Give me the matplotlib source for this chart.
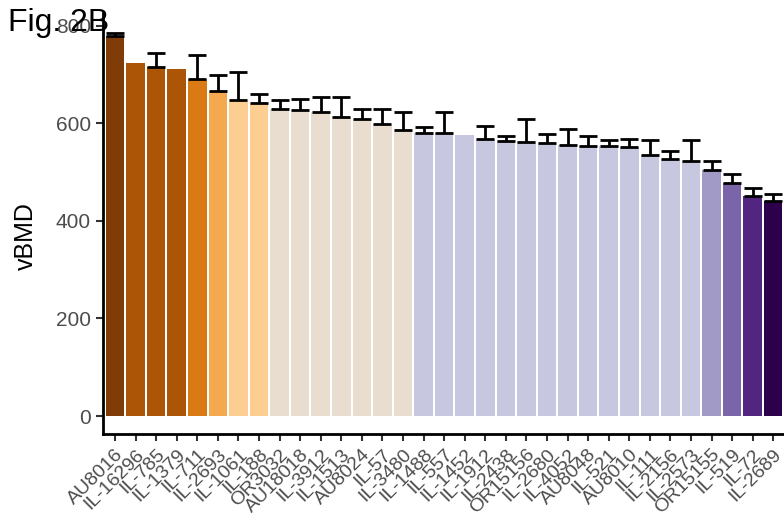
from matplotlib import pyplot as plt
import numpy as np

lines = ["AU8016", "IL-16296", "IL-785", "IL-1379", "IL-711", "IL-2693", "IL-1061",
         "IL-188", "OR3032", "AU18018", "IL-3912", "IL-1513", "AU8024", "IL-57",
         "IL-3480", "IL-1488", "IL-557", "IL-1452", "IL-1912", "IL-2438", "OR15156",
         "IL-2680", "IL-4052", "AU8048", "IL-521", "AU8010", "IL-111", "IL-2156",
         "IL-2573", "OR15155", "IL-519", "IL-72", "IL-2689"]
vbmd = [779, 723, 715, 711, 691, 666, 647, 642, 630, 627, 623, 612, 608, 599,
        586, 581, 581, 576, 567, 564, 561, 559, 555, 554, 553, 552, 536, 526,
        523, 504, 477, 452, 440]
# upper error only, None where no bar was drawn
err = [7, None, 30, None, 50, 33, 58, 18, 17, 22, 31, 41, 22, 31,
       37, 11, 42, None, 27, 10, 48, 20, 34, 20, 12, 16, 29, 18,
       42, 18, 19, 15, 16]
colors = (["#7F3B08"] + ["#AD5506"] * 3 + ["#D97A14", "#F4A84F"] + ["#FDCE91"] * 2
          + ["#E9DDD0"] * 7 + ["#C7C7E0"] * 14
          + ["#A29AC6", "#7A65A8", "#522580", "#2D004B"])

plt.rcParams['font.family'] = ['Liberation Sans', 'DejaVu Sans']

fig = plt.figure(figsize=(7.84, 5.23), dpi=100)
ax = fig.add_axes([0.131, 0.170, 0.871, 0.805])

x = np.arange(len(lines))
ex = [i for i, e in enumerate(err) if e is not None]
ey = [vbmd[i] for i in ex]
ee = [err[i] for i in ex]
ax.errorbar(ex, ey, yerr=[np.zeros(len(ee)), ee], fmt='none', ecolor='black',
            elinewidth=2, capsize=6.8, capthick=2, zorder=3)
ax.bar(x, vbmd, width=0.9, color=colors, zorder=2)

ax.set_xlim(-0.6, len(lines) - 0.4)
ax.set_ylim(-37, 826)
ax.set_yticks([0, 200, 400, 600, 800])
ax.set_xticks(x)
ax.set_xticklabels(lines, rotation=45, ha='right', va='top',
                   rotation_mode='anchor', fontsize=14, color='#4D4D4D')
ax.tick_params(axis='y', labelsize=15, labelcolor='#4D4D4D', color='#333333',
               length=5, width=1.5)
ax.tick_params(axis='x', color='#333333', length=5, width=1.5)
for s in ['top', 'right']:
    ax.spines[s].set_visible(False)
for s in ['left', 'bottom']:
    ax.spines[s].set_linewidth(2)
ax.set_ylabel("vBMD", fontsize=18)
ax.yaxis.set_label_coords(-0.095, 0.47)

fig.text(0.01, 0.985, "Fig. 2B", fontsize=23, va='top', ha='left')

fig.savefig("out.png", dpi=100)
